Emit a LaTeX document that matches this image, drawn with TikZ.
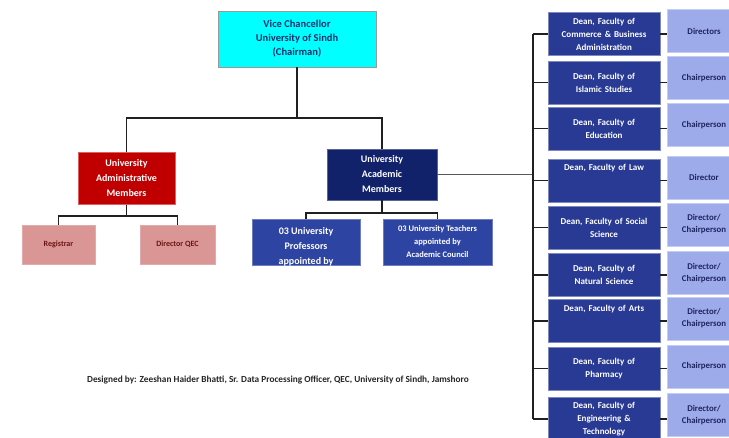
\documentclass[tikz,border=0pt]{standalone}
\usepackage{fontspec}
\setmainfont{Carlito}
\definecolor{vccyan}{HTML}{00FFFF}
\definecolor{vctext}{HTML}{1F2D6E}
\definecolor{admred}{HTML}{C00000}
\definecolor{admborder}{HTML}{E06060}
\definecolor{pinkfill}{HTML}{D99694}
\definecolor{pinktext}{HTML}{6B1515}
\definecolor{acadnavy}{HTML}{11226A}
\definecolor{deanblue}{HTML}{283A94}
\definecolor{profblue}{HTML}{2D44A2}
\definecolor{sidefill}{HTML}{9DABEA}
\definecolor{sideborder}{HTML}{C3CCF2}
\definecolor{sidetext}{HTML}{1E2660}
\definecolor{linecol}{HTML}{202020}
\tikzset{
  boxbase/.style={draw, line width=0.8pt, inner sep=0pt, align=center, font=\bfseries},
  vcbox/.style={boxbase, fill=vccyan, draw=gray!80, text=vctext, font=\bfseries\fontsize{10.5}{14}\selectfont},
  admbox/.style={boxbase, fill=admred, draw=admborder, text=white, font=\bfseries\fontsize{10}{15}\selectfont},
  pinkbox/.style={boxbase, fill=pinkfill, draw=pinkfill!80!white, text=pinktext, font=\bfseries\fontsize{8}{10}\selectfont},
  acadbox/.style={boxbase, fill=acadnavy, draw=acadnavy!70!white, text=white, font=\bfseries\fontsize{10}{15}\selectfont},
  profbox/.style={boxbase, fill=profblue, draw=profblue!70!white, text=white},
  deanbox/.style={boxbase, fill=deanblue, draw=deanblue!60!white, text=white, minimum width=112pt, minimum height=43pt, text width=110pt, font=\bfseries\fontsize{9}{13}\selectfont},
  sidebox/.style={boxbase, fill=sidefill, draw=sideborder, text=sidetext, minimum width=74pt, minimum height=43pt, font=\bfseries\fontsize{8.8}{12}\selectfont},
  conn/.style={draw=linecol, line width=1.8pt},
  thinconn/.style={draw=gray!70!black, line width=1.1pt},
}
\begin{document}
\begin{tikzpicture}[x=1pt, y=-1pt]
\useasboundingbox[fill=white] (0,0) rectangle (729,437);

% top
\node[vcbox, minimum width=158pt, minimum height=56pt] (vc) at (297,39) {Vice Chancellor\\University of Sindh\\(Chairman)};

\node[admbox, minimum width=97pt, minimum height=52pt] (adm) at (126.5,178.5) {University\\Administrative\\Members};
\node[acadbox, minimum width=110pt, minimum height=51pt] (acad) at (382,174.5) {University\\Academic\\Members};

\node[pinkbox, minimum width=73pt, minimum height=39pt] (reg) at (58.5,244.5) {Registrar};
\node[pinkbox, minimum width=75pt, minimum height=39pt] (qec) at (177.5,244.5) {Director QEC};

\node[profbox, minimum width=108pt, minimum height=46pt] (prof) at (306,242) {};
\begin{scope}
\clip (prof.south west) rectangle (prof.north east);
\node[text=white, font=\bfseries\fontsize{10}{15}\selectfont, align=center, anchor=north, inner sep=0pt] (proftext) at (306,227) {03 University\\Professors\\appointed by};
\end{scope}
\node[profbox, minimum width=109pt, minimum height=46pt, font=\bfseries\fontsize{8.5}{13}\selectfont] (teach) at (437.5,242) {03 University Teachers\\appointed by\\Academic Council};

% junctions
\coordinate (j1) at (297,118);
\coordinate (j2) at (126.5,216);
\coordinate (j3) at (382,213);
\coordinate (sp) at (533,0);

\draw[conn] (vc.south) -- (j1);
\draw[conn] (adm.north) |- (j1) -| (acad.north);
\draw[conn] (adm.south) -- (j2);
\draw[conn] (reg.north) |- (j2) -| (qec.north);
\draw[conn] (acad.south) -- (j3);
\draw[conn] (prof.north) |- (j3) -| (teach.north);

% deans
\node[deanbox] (d1) at (604,34) {Dean, Faculty of\\Commerce \& Business\\Administration};
\node[deanbox] (d2) at (604,82.5) {Dean, Faculty of\\Islamic Studies};
\node[deanbox] (d3) at (604,128.5) {Dean, Faculty of\\Education};
\node[deanbox] (d4) at (604,180.5) {Dean, Faculty of Law\\~\\~};
\node[deanbox] (d5) at (604,227.5) {Dean, Faculty of Social\\Science};
\node[deanbox] (d6) at (604,275) {Dean, Faculty of\\Natural Science};
\node[deanbox] (d7) at (604,321) {Dean, Faculty of Arts\\~\\~};
\node[deanbox] (d8) at (604,368.5) {Dean, Faculty of\\Pharmacy};
\node[deanbox] (d9) at (604,419) {Dean, Faculty of\\Engineering \&\\Technology};

\node[sidebox] (s1) at (704,31) {Directors};
\node[sidebox] (s2) at (704,78) {Chairperson};
\node[sidebox] (s3) at (704,125) {Chairperson};
\node[sidebox] (s4) at (704,177.5) {Director};
\node[sidebox] (s5) at (704,224.5) {Director/\\Chairperson};
\node[sidebox] (s6) at (704,273) {Director/\\Chairperson};
\node[sidebox] (s7) at (704,318.5) {Director/\\Chairperson};
\node[sidebox] (s8) at (704,366.5) {Chairperson};
\node[sidebox] (s9) at (704,415) {Director/\\Chairperson};

\draw[thinconn] (acad.east) -- (acad.east -| sp);
\draw[conn] (d1.west -| sp) -- (d9.west -| sp);
\foreach \i in {1,...,9} {
  \draw[conn] (d\i.west -| sp) -- (d\i.west);
  \draw[conn] (d\i.east) -- (d\i.east -| s\i.west);
}

\node[font=\bfseries\fontsize{9.3}{11}\selectfont, text=black!85, inner sep=0pt] (credit) at (278,380) {Designed by: Zeeshan Haider Bhatti, Sr. Data Processing Officer, QEC, University of Sindh, Jamshoro};
\end{tikzpicture}
\end{document}
